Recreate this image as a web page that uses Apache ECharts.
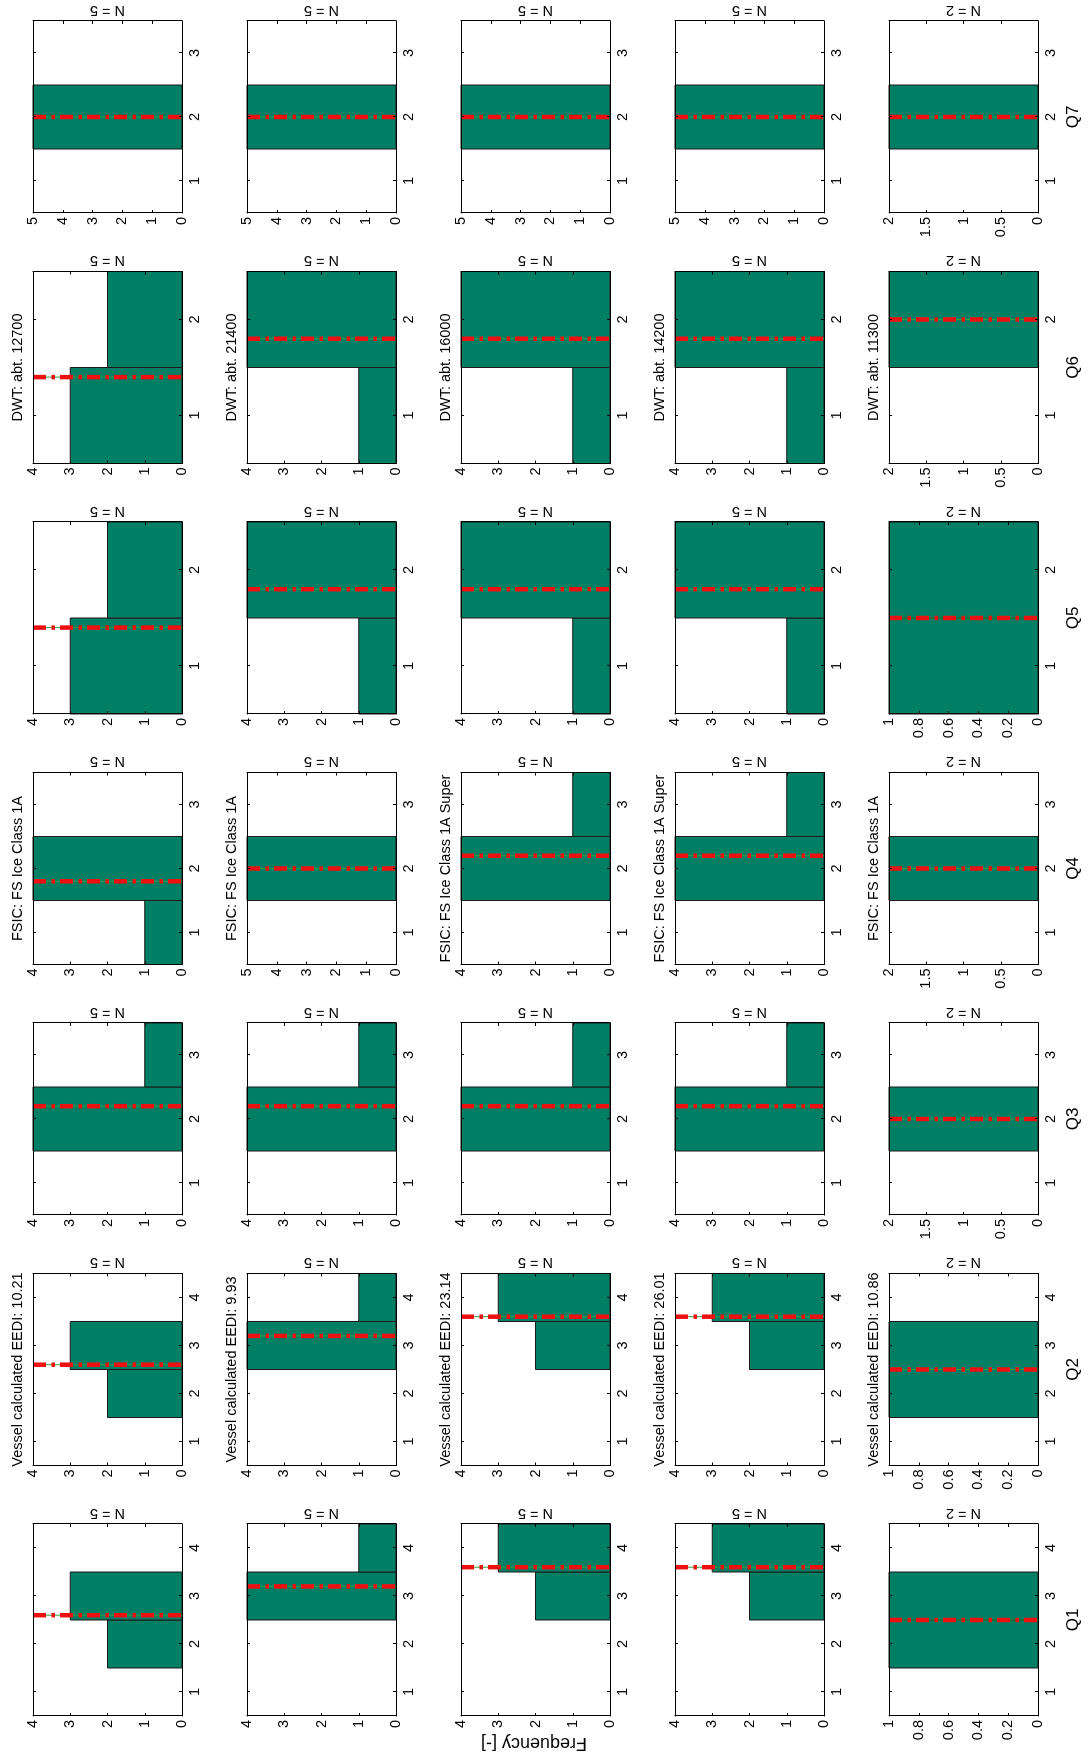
<!DOCTYPE html>
<html>
<head>
<meta charset="utf-8">
<script src="https://cdn.jsdelivr.net/npm/echarts@6/dist/echarts.min.js"></script>
<style>
  html, body { margin: 0; padding: 0; overflow: hidden; background: #fff; }
  #frame { position: relative; width: 1089px; height: 1758px; overflow: hidden; }
  /* The figure is laid out landscape and turned a quarter turn counter-clockwise */
  #chart { position: absolute; left: 0; top: 0; width: 1758px; height: 1089px;
           transform-origin: 0 0; transform: translate(0, 1758px) rotate(-90deg); }
</style>
</head>
<body>
<div id="frame"><div id="chart"></div></div>
<script>
// ---- data -------------------------------------------------------------
const questions = ['Q1', 'Q2', 'Q3', 'Q4', 'Q5', 'Q6', 'Q7'];
const answerOptions = [[1, 2, 3, 4], [1, 2, 3, 4], [1, 2, 3], [1, 2, 3], [1, 2], [1, 2], [1, 2, 3]];

// answer counts per vessel (rows) for each answer option (columns)
const q1Counts = [[0, 2, 3, 0], [0, 0, 4, 1], [0, 0, 2, 3], [0, 0, 2, 3], [0, 1, 1, 0]];
const q2Counts = [[0, 2, 3, 0], [0, 0, 4, 1], [0, 0, 2, 3], [0, 0, 2, 3], [0, 1, 1, 0]];
const q3Counts = [[0, 4, 1], [0, 4, 1], [0, 4, 1], [0, 4, 1], [0, 2, 0]];
const q4Counts = [[1, 4, 0], [0, 5, 0], [0, 4, 1], [0, 4, 1], [0, 2, 0]];
const q5Counts = [[3, 2], [1, 4], [1, 4], [1, 4], [1, 1]];
const q6Counts = [[3, 2], [1, 4], [1, 4], [1, 4], [0, 2]];
const q7Counts = [[0, 5, 0], [0, 5, 0], [0, 5, 0], [0, 5, 0], [0, 2, 0]];

// frequency axis upper limits per question and vessel
const q1FreqMax = [4, 4, 4, 4, 1];
const q2FreqMax = [4, 4, 4, 4, 1];
const q3FreqMax = [4, 4, 4, 4, 2];
const q4FreqMax = [4, 5, 4, 4, 2];
const q5FreqMax = [4, 4, 4, 4, 1];
const q6FreqMax = [4, 4, 4, 4, 2];
const q7FreqMax = [5, 5, 5, 5, 2];
const freqTickStep = { 1: 0.2, 2: 0.5, 4: 1, 5: 1 };

const eediTitles = ['Vessel calculated EEDI: 10.21', 'Vessel calculated EEDI: 9.93',
  'Vessel calculated EEDI: 23.14', 'Vessel calculated EEDI: 26.01', 'Vessel calculated EEDI: 10.86'];
const iceClassTitles = ['FSIC: FS Ice Class 1A', 'FSIC: FS Ice Class 1A',
  'FSIC: FS Ice Class 1A Super', 'FSIC: FS Ice Class 1A Super', 'FSIC: FS Ice Class 1A'];
const dwtTitles = ['DWT: abt. 12700', 'DWT: abt. 21400', 'DWT: abt. 16000',
  'DWT: abt. 14200', 'DWT: abt. 11300'];

const yAxisTitle = 'Frequency [-]';

const countsByQuestion = [q1Counts, q2Counts, q3Counts, q4Counts, q5Counts, q6Counts, q7Counts];
const freqMaxByQuestion = [q1FreqMax, q2FreqMax, q3FreqMax, q4FreqMax, q5FreqMax, q6FreqMax, q7FreqMax];
const titlesByQuestion = [null, eediTitles, null, iceClassTitles, null, dwtTitles, null];

// ---- layout & style ---------------------------------------------------
const FONT = "'Liberation Sans', Arial, Helvetica, sans-serif";
const LEFT0 = 42, STEP_X = 250.5, PANEL_W = 192;
const TOP0 = 33, STEP_Y = 214, PANEL_H = 149;
const BAR_FILL = '#007f64';
const BAR_EDGE = '#1a1a1a';
const MEAN_RED = '#ee1010';
const MEAN_THIN = '#3a9a3a';
const TXT = 14.5;

const grids = [], xAxes = [], yAxes = [], series = [], graphics = [];

function renderBar(params, api) {
  const cat = api.value(0), n = api.value(1);
  if (!n) return null;
  const p0 = api.coord([cat - 0.5, n]);
  const p1 = api.coord([cat + 0.5, 0]);
  return {
    type: 'rect',
    shape: { x: p0[0], y: p0[1], width: p1[0] - p0[0], height: p1[1] - p0[1] },
    style: { fill: BAR_FILL, stroke: BAR_EDGE, lineWidth: 1 }
  };
}

const axisLine = { show: true, onZero: false, lineStyle: { color: '#000', width: 1 } };

questions.forEach((q, qi) => {
  const cats = answerOptions[qi];
  countsByQuestion[qi].forEach((counts, vi) => {
    const g = grids.length;
    const left = LEFT0 + qi * STEP_X;
    const top = TOP0 + vi * STEP_Y;
    grids.push({ left: left, top: top, width: PANEL_W, height: PANEL_H, containLabel: false });

    const ymax = freqMaxByQuestion[qi][vi];
    const step = freqTickStep[ymax];
    const xBase = {
      gridIndex: g, type: 'value', min: cats[0] - 0.5, max: cats[cats.length - 1] + 0.5,
      axisLine: axisLine, splitLine: { show: false }, z: 5,
      axisTick: { show: true, inside: true, length: 3, customValues: cats, lineStyle: { color: '#000' } }
    };
    xAxes.push(Object.assign({}, xBase, {
      position: 'bottom',
      axisLabel: { customValues: cats, margin: 5, fontSize: TXT, color: '#000', fontFamily: FONT }
    }));
    xAxes.push(Object.assign({}, xBase, { position: 'top', axisLabel: { show: false } }));

    const yBase = {
      gridIndex: g, type: 'value', min: 0, max: ymax, interval: step,
      axisLine: axisLine, splitLine: { show: false }, z: 5,
      axisTick: { show: true, inside: true, length: 3, lineStyle: { color: '#000' } }
    };
    yAxes.push(Object.assign({}, yBase, {
      position: 'left',
      axisLabel: { margin: 4, fontSize: TXT, color: '#000', fontFamily: FONT }
    }));
    yAxes.push(Object.assign({}, yBase, { position: 'right', axisLabel: { show: false } }));

    const n = counts.reduce((a, b) => a + b, 0);
    const mean = counts.reduce((a, c, i) => a + c * cats[i], 0) / n;

    series.push({
      type: 'custom', xAxisIndex: 2 * g, yAxisIndex: 2 * g, silent: true, z: 2,
      renderItem: renderBar,
      data: cats.map((c, i) => [c, counts[i]])
    });
    const meanData = [[mean, ymax], [mean, 0]];
    series.push({
      type: 'line', xAxisIndex: 2 * g, yAxisIndex: 2 * g, silent: true, z: 3,
      symbol: 'none', data: meanData,
      lineStyle: { color: MEAN_THIN, width: 1 }
    });
    series.push({
      type: 'line', xAxisIndex: 2 * g, yAxisIndex: 2 * g, silent: true, z: 4,
      symbol: 'none', data: meanData,
      lineStyle: { color: MEAN_RED, width: 4.5, type: [13, 5.5, 3.5, 5], cap: 'butt' }
    });

    // panel sample size on the right side
    graphics.push({
      type: 'text', x: left + PANEL_W + 11, y: top + PANEL_H / 2, rotation: Math.PI / 2,
      style: { text: 'N = ' + n, align: 'center', verticalAlign: 'middle',
               font: TXT + 'px ' + FONT, fill: '#000' }
    });

    // panel title
    const titles = titlesByQuestion[qi];
    if (titles) {
      graphics.push({
        type: 'text', x: left + PANEL_W / 2, y: top - 15,
        style: { text: titles[vi], align: 'center', verticalAlign: 'middle',
                 font: TXT + 'px ' + FONT, fill: '#000' }
      });
    }

    // question label under the last row
    if (vi === countsByQuestion[qi].length - 1) {
      graphics.push({
        type: 'text', x: left + PANEL_W / 2, y: top + PANEL_H + 35,
        style: { text: q, align: 'center', verticalAlign: 'middle',
                 font: '17px ' + FONT, fill: '#000' }
      });
    }
  });
});

// shared frequency label beside the middle row
graphics.push({
  type: 'text', x: 15, y: 534, rotation: Math.PI / 2,
  style: { text: yAxisTitle, align: 'center', verticalAlign: 'middle',
           font: '18px ' + FONT, fill: '#000' }
});

const chart = echarts.init(document.getElementById('chart'), null, { renderer: 'canvas', devicePixelRatio: 1 });
chart.setOption({
  animation: false,
  backgroundColor: '#fff',
  grid: grids,
  xAxis: xAxes,
  yAxis: yAxes,
  series: series,
  graphic: graphics
});
</script>
</body>
</html>
